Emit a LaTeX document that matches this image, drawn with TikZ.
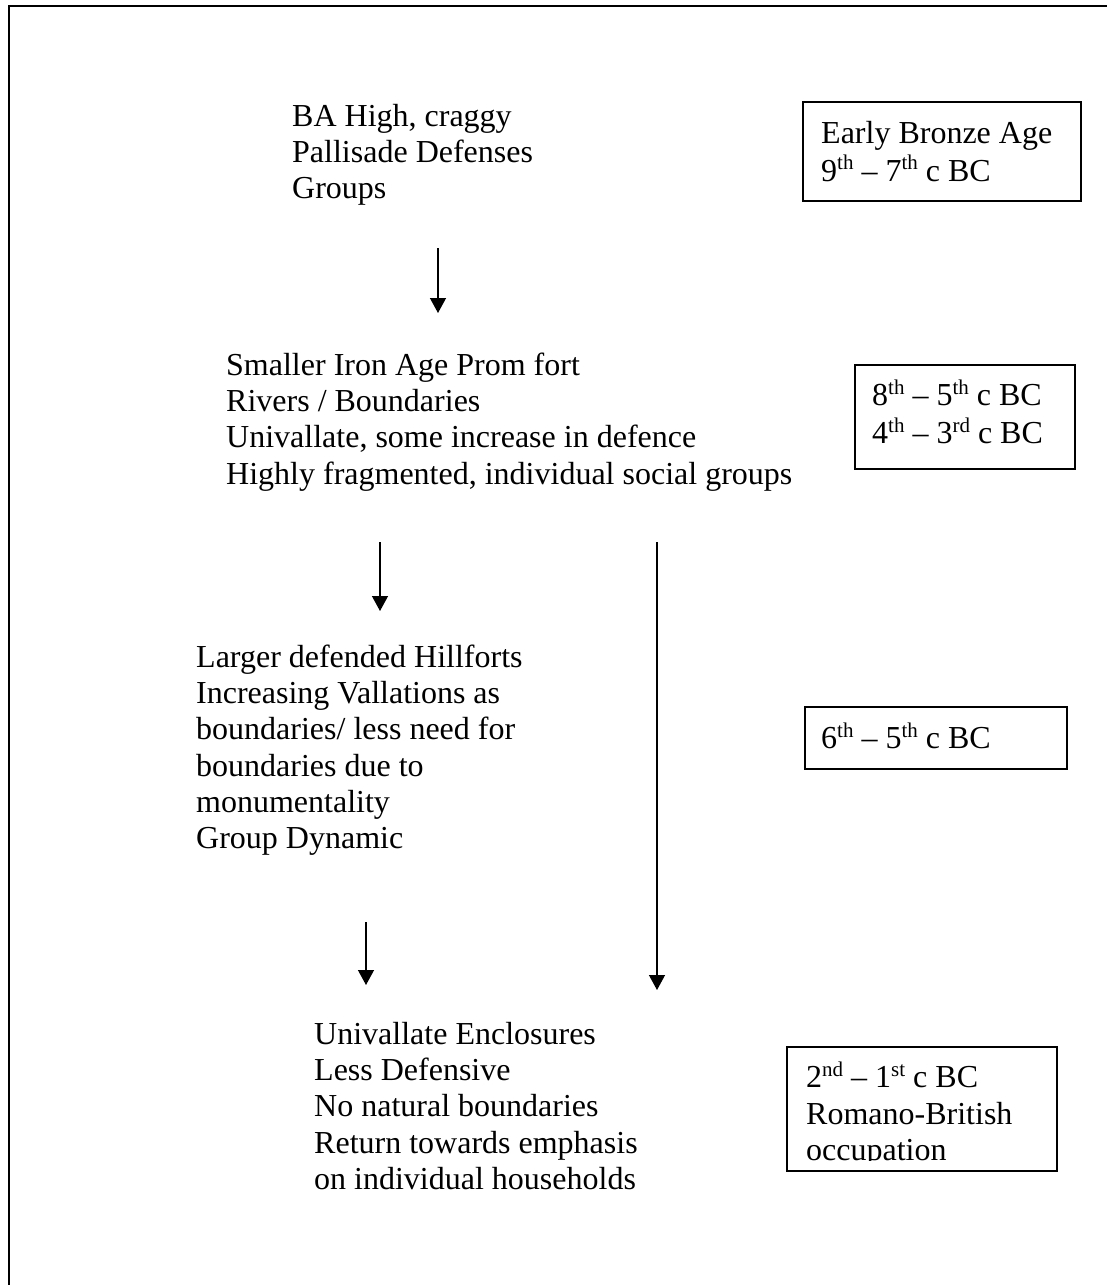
\documentclass[tikz,border=0pt]{standalone}
\usepackage{fontspec}
\setmainfont{Liberation Serif}
\usetikzlibrary{arrows.meta}
\newcommand\upsc[1]{\raisebox{0.36em}{\fontsize{21}{21}\selectfont #1}}
\begin{document}
\begin{tikzpicture}[x=1pt,y=-1pt,
  txt/.style={anchor=north west, inner sep=0pt, align=left,
    font=\fontsize{32}{36.3}\selectfont},
  datebox/.style={draw, line width=1.8pt, anchor=north west, inner sep=0pt},
  flow/.style={line width=1.3pt, -{Triangle[length=15pt,width=16pt]}},
  frameline/.style={line width=2pt}]
\useasboundingbox (0,0) rectangle (1107,1285);
\clip (0,0) rectangle (1107,1285);
% outer frame (only top and left edges fall inside the picture)
\draw[frameline] (9,1400) -- (9,6) -- (1200,6);

% text blocks (baseline of first line = y + 25.4)
\node[txt] (b1) at (292,100.6) {\strut BA High, craggy\\Pallisade Defenses\\Groups};
\node[txt] (b2) at (226,349.6) {\strut Smaller Iron Age Prom fort\\Rivers / Boundaries\\Univallate, some increase in defence\\Highly fragmented, individual social groups};
\node[txt] (b3) at (196,641.6) {\strut Larger defended Hillforts\\Increasing Vallations as\\boundaries/ less need for\\boundaries due to\\monumentality\\Group Dynamic};
\node[txt] (b4) at (314,1018.6) {\strut Univallate Enclosures\\Less Defensive\\No natural boundaries\\Return towards emphasis\\on individual households};

% date boxes
\node[datebox, minimum width=278pt, minimum height=99pt] (d1) at (802,101) {};
\node[txt] (d1t) at (821,117.6) {\strut Early Bronze Age\\9\upsc{th} -- 7\upsc{th} c BC};

\node[datebox, minimum width=220pt, minimum height=104pt] (d2) at (854,364) {};
\node[txt] (d2t) at (872,379.6) {\strut 8\upsc{th} -- 5\upsc{th} c BC\\4\upsc{th} -- 3\upsc{rd} c BC};

\node[datebox, minimum width=262pt, minimum height=62pt] (d3) at (804,706) {};
\node[txt] (d3t) at (821,722.6) {\strut 6\upsc{th} -- 5\upsc{th} c BC};

\node[datebox, minimum width=270pt, minimum height=124pt] (d4) at (786,1046) {};
\begin{scope}
\clip (790,1050) rectangle (1052,1160);
\node[txt] (d4t) at (806,1061.6) {\strut 2\upsc{nd} -- 1\upsc{st} c BC\\Romano-British\\occupation};
\end{scope}

% arrows
\coordinate (a1s) at (438,248); \coordinate (a1e) at (438,313);
\coordinate (a2s) at (380,542); \coordinate (a2e) at (380,611);
\coordinate (a3s) at (657,542); \coordinate (a3e) at (657,990);
\coordinate (a4s) at (366,922); \coordinate (a4e) at (366,985);
\draw[flow] (a1s) -- (a1e);
\draw[flow] (a2s) -- (a2e);
\draw[flow] (a3s) -- (a3e);
\draw[flow] (a4s) -- (a4e);
\end{tikzpicture}
\end{document}
